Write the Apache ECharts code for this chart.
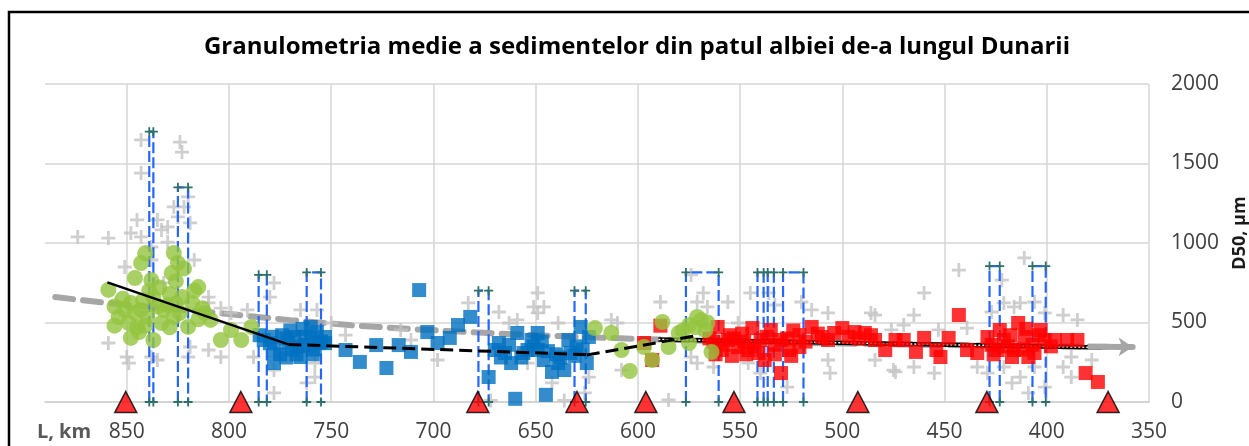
<!DOCTYPE html>
<html><head><meta charset="utf-8">
<script src="https://cdn.jsdelivr.net/npm/echarts@6/dist/echarts.min.js"></script>
<style>html,body{margin:0;padding:0;background:#fff}#c{width:1249px;height:446px}</style>
</head><body><div id="c"></div>
<script>
const titleText = 'Granulometria medie a sedimentelor din patul albiei de-a lungul Dunarii';
const xTicks = [850,800,750,700,650,600,550,500,450,400,350];
const yTicks = [0,500,1000,1500,2000];

const greenPts = [[859,705],[841,935],[843,874],[846,780],[838,767],[827,937],[825,874],[828,811],[815,723],[854,535],[848,623],[843,579],[837,660],[832,579],[823,660],[818,623],[827,535],[849,497],[820,472],[848,403],[837,390],[809,516],[804,390],[799,453],[794,390],[789,472],[840,535],[833,497],[851,579],[830,610],[835,600],[845,470],[812,560],
 [856,600],[852,650],[846,560],[842,640],[839,700],[834,720],[829,680],[826,760],[822,840],[817,700],[813,590],[844,440],[829,470],[824,560],[815,520],[856,480],[841,480],[826,620],
 [621,465],[613,434],[608,327],[604,195],[597,346],[593,264],[588,503],[585,346],[580,434],[575,484],[569,516],[567,453],[575,371],[564,315],[571,535],[578,450],[572,470],[566,500]];

const bluePts = [[783,390],[778,245],[771,371],[765,283],[760,472],[756,371],[768,409],[753,409],[778,330],[774,420],[762,360],[757,440],[766,350],[780,370],
 [775,300],[772,400],[769,330],[763,410],[760,400],[758,330],[755,380],[779,410],[772,280],[764,460],[759,300],[753,370],[785,420],[770,450],[767,300],
 [743,327],[736,252],[728,358],[723,214],[717,358],[711,315],[707,704],[703,440],[698,371],[692,403],[688,484],[682,535],[673,157],[670,327],[665,308],[662,245],[659,434],[656,308],[652,390],[649,327],[646,264],[642,189],[639,245],[636,201],[634,390],[628,472],[624,409],[625,245],[660,20],[645,45],[668,371],[654,327],[649,434],[633,308],[640,300],[630,350],
 [663,360],[657,280],[651,350],[644,320],[638,280],[631,290],[627,330],[667,280],[647,380]];

const redPts = [[561,472],[556,390],[559,327],[551,346],[544,465],[540,390],[538,264],[535,453],[530,390],[530,182],[526,327],[521,421],[515,472],[510,409],[504,434],[500,465],[494,440],[489,434],[484,390],[479,327],[474,390],[546,327],[541,308],[521,346],[470,390],[464,315],[460,403],[454,327],[452,283],[448,403],[443,547],[439,327],[434,308],[429,409],[423,453],[421,390],[417,283],[414,497],[411,409],[409,283],[406,308],[403,453],[401,390],[396,390],[390,390],[385,390],[381,182],[375,126],[424,327],[416,327],[597,371],[589,480],[593,264],[565,400],[555,420],[548,380],
 [563,380],[558,360],[553,400],[549,430],[543,350],[537,410],[533,360],[527,400],[524,450],[518,380],[512,430],[507,390],[497,410],[492,400],[486,420],[562,300],[554,290],[547,300],[533,300],[525,290],
 [427,360],[419,350],[412,330],[407,360],[404,420],[398,350],[426,300],[418,420],[410,460]];

const greyPts = [[843,1648],[824,1635],[823,1572],[843,1440],[859,1031],[845,1145],[848,1063],[843,1038],[833,1082],[830,1101],[822,1227],[820,1290],[827,1227],[825,1164],[819,1126],[817,893],[835,1145],[838,893],[810,623],[799,560],[791,579],[780,660],[778,749],[859,371],[850,283],[838,283],[835,264],[820,283],[819,346],[810,327],[804,283],[788,283],[778,57],[778,201],[767,327],[762,120],[758,157],[758,245],[757,579],[765,579],[750,497],[849,245],[843,497],[832,749],[804,591],[838,975],[851,849],[830,1006],[810,660],[874,1038],
 [683,623],[668,566],[649,686],[651,598],[649,560],[646,598],[639,497],[613,516],[743,421],[711,390],[663,497],[659,516],[654,245],[642,120],[626,57],[636,10],[672,10],[698,264],[716,453],[624,157],[610,497],
 [589,629],[574,799],[568,686],[571,629],[566,598],[574,283],[571,245],[556,629],[551,497],[545,686],[546,245],[540,182],[536,686],[533,610],[527,94],[520,629],[515,579],[507,560],[507,264],[506,182],[486,560],[484,264],[475,201],[585,13],[608,201],[563,220],
 [443,830],[411,906],[460,686],[484,547],[465,547],[470,484],[476,453],[453,453],[439,465],[427,566],[421,623],[422,767],[416,598],[413,623],[406,629],[401,560],[392,547],[385,516],[474,189],[465,220],[455,182],[434,220],[429,182],[421,220],[417,120],[413,157],[409,57],[406,220],[392,220],[388,157],[388,283],[378,264],[401,94]];

const trendSolid = [[859.5,752],[771,362]];
const trendDash1 = [[771,362],[625,298]];
const trendDash2 = [[625,295],[570,420]];
const trendDotted = [[590,393],[373,343]];
const trendGrey = [[885,660],[860,623],[830,588],[800,553],[770,515],[740,482],[710,458],[680,438],[650,420],[620,405],[590,393],[560,383],[530,375],[500,368],[470,362],[440,357],[410,352],[380,348],[358,346]];

// [left km, right km, top D50]
const rangeBars = [[839,837,1700],[825,820,1350],[785.5,781.5,800],[762,755,815],[678,673,700],[631,625.5,700],[576.5,560.5,815],[541.5,538.5,815],[536.5,533.5,815],[529,519,815],[428,423,855],[407,400.5,855]];

const markerKm = [850.5,794.2,678.3,629.8,596.1,553,492.4,429.3,370];

const PLUS = 'path://M4,0h2v4h4v2h-4v4h-2v-4h-4v-2h4z';

const series = [];
series.push({type:'line', data:trendGrey, symbol:'none', z:1, silent:true,
  lineStyle:{color:'#a6a6a6', width:6, type:[18,10], cap:'round'},
  markLine:{silent:true, symbol:['none','arrow'], symbolSize:[14,14], label:{show:false},
    lineStyle:{color:'#a6a6a6', width:6, type:'solid'},
    data:[[{coord:trendGrey[trendGrey.length-2]},{coord:trendGrey[trendGrey.length-1]}]]}});
series.push({type:'scatter', data:greyPts, symbol:PLUS, symbolSize:14, z:2, silent:true,
  itemStyle:{color:'#c3c3c3'}});
rangeBars.forEach(b=>{
  series.push({type:'line', z:3, silent:true,
    data:[[b[0],0],[b[0],b[2]],[b[1],b[2]],[b[1],0]],
    symbol:PLUS, symbolSize:9, itemStyle:{color:'#2f6f6a'},
    lineStyle:{color:'#2566ff', width:2.2, type:[11,4]}});
});
series.push({type:'line', data:trendDotted, symbol:'none', z:3, silent:true,
  lineStyle:{color:'#000', width:4.5}});
series.push({type:'line', data:trendDotted, symbol:'none', z:3, silent:true,
  lineStyle:{color:'#fff', width:1.5, type:[2,2]}});
series.push({type:'scatter', data:bluePts, symbol:'rect', symbolSize:14, z:4, silent:true,
  itemStyle:{color:'#0070c0'}});
series.push({type:'scatter', data:redPts, symbol:'rect', symbolSize:14, z:4, silent:true,
  itemStyle:{color:'#ff0000'}});
series.push({type:'scatter', data:greenPts, symbol:'circle', symbolSize:16, z:5, silent:true,
  itemStyle:{color:'#93c43f'}});
series.push({type:'line', data:trendSolid, symbol:'none', z:6, silent:true,
  lineStyle:{color:'#000', width:2.5}});
series.push({type:'line', data:trendDash1, symbol:'none', z:6, silent:true,
  lineStyle:{color:'#000', width:3, type:[13,6]}});
series.push({type:'line', data:trendDash2, symbol:'none', z:6, silent:true,
  lineStyle:{color:'#000', width:3, type:[13,6]}});
series.push({type:'scatter', data:markerKm.map(k=>[k,0]), symbol:'triangle', symbolSize:[22,21], z:7, clip:false, silent:true,
  itemStyle:{color:'#ff0000', borderColor:'#000', borderWidth:1.5}});

const chart = echarts.init(document.getElementById('c'), null, {renderer:'canvas'});
chart.setOption({
  animation:false,
  backgroundColor:'#fff',
  title:{text:titleText, left:632, top:30, textAlign:'center',
    textStyle:{fontFamily:'Open Sans', fontWeight:'bold', fontSize:24, color:'#000'}},
  grid:{left:45, right:100, top:84, bottom:44},
  xAxis:{type:'value', min:350, max:890, interval:50, inverse:true,
    axisLine:{show:true, onZero:false, lineStyle:{color:'#d0d0d0', width:1.5}},
    axisTick:{show:false},
    splitLine:{show:true, showMaxLine:false, lineStyle:{color:'#d6d6d6', width:1.5}},
    axisLabel:{margin:20, fontFamily:'Open Sans', fontSize:21, color:'#404040',
      formatter:v=> xTicks.includes(v) ? String(v) : ''}},
  yAxis:{type:'value', position:'right', min:0, max:2000, interval:500,
    axisLine:{show:false}, axisTick:{show:false},
    splitLine:{show:true, lineStyle:{color:'#d6d6d6', width:1.5}},
    axisLabel:{margin:22, fontFamily:'Open Sans', fontSize:21, color:'#404040',
      formatter:v=> yTicks.includes(v) ? String(v) : ''}},
  graphic:[
    {type:'rect', shape:{x:9, y:12, width:1300, height:500}, style:{fill:'none', stroke:'#000', lineWidth:2.5}, z:10},
    {type:'text', x:64, y:432, style:{text:'L, km', font:'bold 20px "Open Sans"', fill:'#595959', textAlign:'center', textVerticalAlign:'middle'}},
    {type:'text', x:1240, y:233, rotation:Math.PI/2, style:{text:'D50, µm', font:'bold 18px "Open Sans"', fill:'#1a1a1a', textAlign:'center', textVerticalAlign:'middle'}}
  ],
  series:series
});
</script></body></html>
